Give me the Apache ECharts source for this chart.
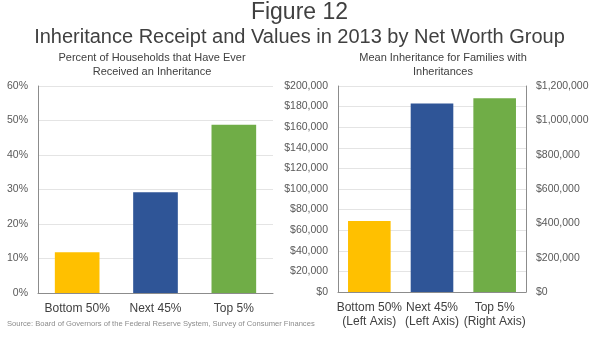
<!DOCTYPE html>
<html><head><meta charset="utf-8">
<script src="https://cdn.jsdelivr.net/npm/echarts@6/dist/echarts.min.js"></script>
<style>html,body{margin:0;padding:0;background:#fff}#c{width:599px;height:337px}</style>
</head><body><div id="c"></div>
<script>
const categoriesLeft = ['Bottom 50%', 'Next 45%', 'Top 5%'];
const shareReceived = [11.8, 29.2, 48.8];
const categoriesRight = ['Bottom 50%\n(Left Axis)', 'Next 45%\n(Left Axis)', 'Top 5%\n(Right Axis)'];
const meanInheritLeftAxis = [69000, 183000, null];
const meanInheritRightAxis = [null, null, 1128000];
const barColors = ['#FFC000', '#2F5597', '#70AD47'];

const FONT = 'Liberation Sans';
const chart = echarts.init(document.getElementById('c'), null, {renderer: 'canvas'});
const money = v => '$' + v.toLocaleString('en-US');
const axisLabel = {color: '#595959', fontSize: 10.5, fontFamily: FONT};
const catLabel = {color: '#404040', fontSize: 12, fontFamily: FONT, lineHeight: 14, margin: 9, interval: 0};
const split = {show: true, lineStyle: {color: '#e4e4e4', width: 1}};
const axLine = {show: true, lineStyle: {color: '#8c8c8c', width: 1}};
const tStyle = (size, extra) => Object.assign({fontFamily: FONT, fontWeight: 'normal', fontSize: size, color: '#404040'}, extra || {});

chart.setOption({
  animation: false,
  title: [
    {text: 'Figure 12', left: 'center', top: 1, padding: 0, textStyle: tStyle(23)},
    {text: 'Inheritance Receipt and Values in 2013 by Net Worth Group', left: 'center', top: 27, padding: 0, textStyle: tStyle(20)},
    {text: 'Percent of Households that Have Ever\nReceived an Inheritance', left: 152, textAlign: 'center', top: 51, padding: 0, textStyle: tStyle(11, {lineHeight: 14})},
    {text: 'Mean Inheritance for Families with\nInheritances', left: 443, textAlign: 'center', top: 51, padding: 0, textStyle: tStyle(11, {lineHeight: 14})},
    {text: 'Source: Board of Governors of the Federal Reserve System, Survey of Consumer Finances', left: 7, top: 320, padding: 0, textStyle: tStyle(7.6, {color: '#8c8c8c'})}
  ],
  grid: [
    {left: 38, right: 326, top: 86, bottom: 44},
    {left: 338, right: 73, top: 86, bottom: 45}
  ],
  xAxis: [
    {type: 'category', gridIndex: 0, data: categoriesLeft, axisTick: {show: false}, axisLine: axLine, axisLabel: catLabel},
    {type: 'category', gridIndex: 1, data: categoriesRight, axisTick: {show: false}, axisLine: axLine, axisLabel: catLabel}
  ],
  yAxis: [
    {type: 'value', gridIndex: 0, min: 0, max: 60, interval: 10, axisLine: axLine, axisTick: {show: false}, splitLine: split,
     axisLabel: Object.assign({}, axisLabel, {margin: 10, formatter: v => v + '%'})},
    {type: 'value', gridIndex: 1, position: 'left', min: 0, max: 200000, interval: 20000, axisLine: axLine, axisTick: {show: false}, splitLine: split,
     axisLabel: Object.assign({}, axisLabel, {margin: 10, formatter: money})},
    {type: 'value', gridIndex: 1, position: 'right', min: 0, max: 1200000, interval: 200000, axisLine: axLine, axisTick: {show: false}, splitLine: {show: false},
     axisLabel: Object.assign({}, axisLabel, {margin: 10, formatter: money})}
  ],
  series: [
    {type: 'bar', xAxisIndex: 0, yAxisIndex: 0, barWidth: '57%',
     data: shareReceived.map((v, i) => ({value: v, itemStyle: {color: barColors[i]}}))},
    {type: 'bar', xAxisIndex: 1, yAxisIndex: 1, barWidth: '68%', barGap: '-100%',
     data: meanInheritLeftAxis.map((v, i) => ({value: v === null ? '-' : v, itemStyle: {color: barColors[i]}}))},
    {type: 'bar', xAxisIndex: 1, yAxisIndex: 2, barWidth: '68%', barGap: '-100%',
     data: meanInheritRightAxis.map((v, i) => ({value: v === null ? '-' : v, itemStyle: {color: barColors[i]}}))}
  ]
});
</script></body></html>
